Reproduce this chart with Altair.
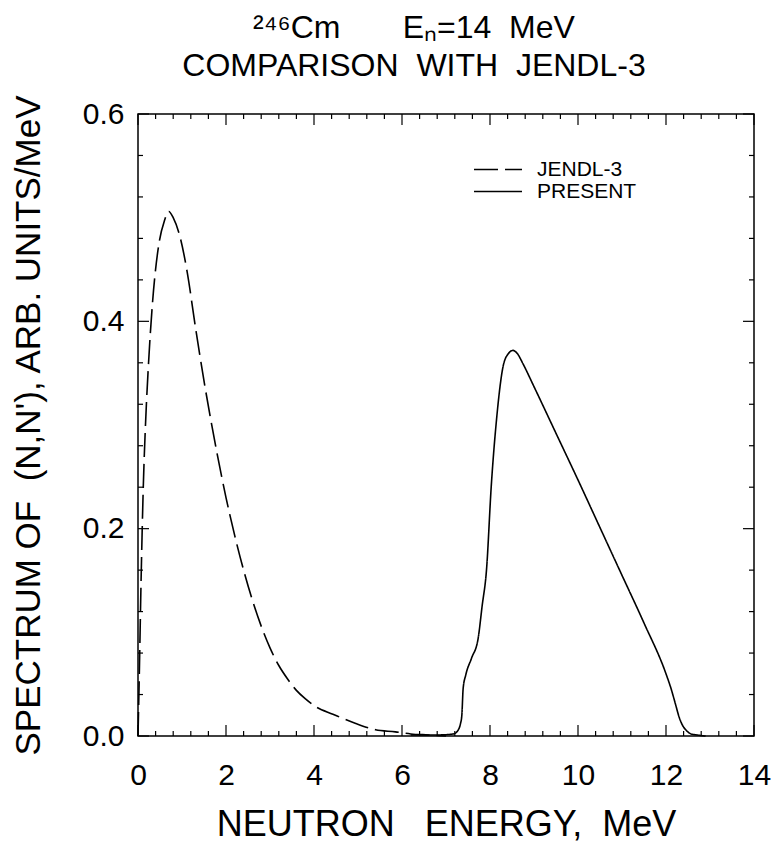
import altair as alt
import pandas as pd

# ---- data ----
jendl_x = [0.0, 0.03, 0.07, 0.12, 0.17, 0.24, 0.33, 0.48, 0.60, 0.70, 0.80, 0.97, 1.12, 1.31,
           1.53, 1.80, 2.00, 2.20, 2.40, 2.60, 2.80, 3.00, 3.20, 3.40, 3.60, 3.80, 4.05, 4.43,
           4.95, 5.40, 5.85, 6.20, 6.60, 7.00]
jendl_y = [0.0, 0.06, 0.15, 0.24, 0.30, 0.36, 0.418, 0.476, 0.497, 0.506, 0.500, 0.479, 0.447,
           0.393, 0.335, 0.272, 0.230, 0.193, 0.160, 0.131, 0.106, 0.085, 0.068, 0.055, 0.044,
           0.036, 0.028, 0.021, 0.012, 0.006, 0.004, 0.002, 0.001, 0.0]

present_x = [6.2, 6.8, 7.17, 7.28, 7.33, 7.36, 7.39, 7.45, 7.58, 7.73, 7.82, 7.92, 8.03, 8.15,
             8.30, 8.42, 8.52, 8.62, 8.75, 9.00, 9.50, 10.00, 10.50, 11.00, 11.50, 12.00, 12.12,
             12.22, 12.30, 12.38, 12.47, 12.57, 12.70, 12.90]
present_y = [0.001, 0.001, 0.002, 0.006, 0.012, 0.020, 0.046, 0.059, 0.075, 0.094, 0.125, 0.160,
             0.242, 0.306, 0.357, 0.369, 0.372, 0.369, 0.359, 0.337, 0.292, 0.247, 0.201, 0.155,
             0.109, 0.060, 0.045, 0.030, 0.018, 0.010, 0.005, 0.002, 0.001, 0.0]

series_names = ["JENDL-3", "PRESENT"]
x_major = [0, 2, 4, 6, 8, 10, 12, 14]
x_minor = [round(0.4 * i, 2) for i in range(36) if i % 5]
y_major = [0.0, 0.2, 0.4, 0.6]
y_minor = [round(0.04 * i, 2) for i in range(16) if i % 5]

W, H = 616, 622
FONT = "Liberation Sans"

df = pd.concat([
    pd.DataFrame({"x": jendl_x, "y": jendl_y, "series": series_names[0], "o": range(len(jendl_x))}),
    pd.DataFrame({"x": present_x, "y": present_y, "series": series_names[1], "o": range(len(present_x))}),
])

xscale = alt.Scale(domain=[0, 14], nice=False, zero=False)
yscale = alt.Scale(domain=[0, 0.6], nice=False, zero=False)
xaxis = alt.Axis(values=x_major, format="d",
                 title="NEUTRON\u00a0\u00a0\u00a0ENERGY,\u00a0\u00a0MeV",
                 labelPadding=24, titlePadding=17, titleFontSize=36)
yaxis = alt.Axis(values=y_major, format=".1f",
                 title="SPECTRUM OF\u00a0\u00a0(N,N'), ARB. UNITS/MeV",
                 labelPadding=14, titlePadding=36)

lines = alt.Chart(df).mark_line(interpolate="monotone", strokeWidth=1.6, color="black").encode(
    x=alt.X("x:Q", scale=xscale, axis=xaxis),
    y=alt.Y("y:Q", scale=yscale, axis=yaxis),
    order="o:Q",
    strokeDash=alt.StrokeDash(
        "series:N",
        scale=alt.Scale(domain=series_names, range=[[24, 7], [1, 0]]),
        legend=alt.Legend(title=None, orient="none", legendX=335, legendY=46,
                          symbolType="stroke", symbolSize=2300, symbolStrokeWidth=1.5,
                          symbolStrokeColor="black", labelFont=FONT, labelFontSize=21,
                          labelColor="black", clipHeight=19, padding=0, labelOffset=14,
                          rowPadding=0),
    ),
)


def tick_layer(vals, field, length, side):
    d = pd.DataFrame({field: vals})
    base = alt.Chart(d).mark_rule(color="black", strokeWidth=1.2)
    if side == "bottom":
        return base.encode(x=alt.X(f"{field}:Q", scale=xscale, axis=xaxis),
                           y=alt.value(H), y2=alt.value(H - length))
    if side == "top":
        return base.encode(x=alt.X(f"{field}:Q", scale=xscale, axis=xaxis),
                           y=alt.value(0), y2=alt.value(length))
    if side == "left":
        return base.encode(y=alt.Y(f"{field}:Q", scale=yscale, axis=yaxis),
                           x=alt.value(0), x2=alt.value(length))
    return base.encode(y=alt.Y(f"{field}:Q", scale=yscale, axis=yaxis),
                       x=alt.value(W), x2=alt.value(W - length))


ticks = []
for side in ["bottom", "top"]:
    ticks.append(tick_layer(x_major, "x", 11, side))
    ticks.append(tick_layer(x_minor, "x", 5, side))
for side in ["left", "right"]:
    ticks.append(tick_layer(y_major, "y", 11, side))
    ticks.append(tick_layer(y_minor, "y", 5, side))

chart = alt.layer(lines, *ticks).properties(
    width=W, height=H,
    padding={"left": 3, "top": 4, "right": 0, "bottom": 0},
    title=alt.TitleParams(
        text=["\u00b2\u2074\u2076Cm\u00a0\u00a0\u00a0\u00a0\u00a0\u00a0\u00a0E\u2099=14\u00a0\u00a0MeV",
              "COMPARISON\u00a0\u00a0WITH\u00a0\u00a0JENDL-3"],
        font=FONT, fontSize=32, fontWeight="normal", color="black",
        anchor="middle", frame="group", dx=-32, lineHeight=38, offset=11,
    ),
    background="white",
).configure_view(stroke="black", strokeWidth=1.5).configure_axis(
    domain=False, ticks=False, grid=False, labelFont=FONT, labelFontSize=30,
    labelColor="black", titleFont=FONT, titleFontSize=35, titleFontWeight="normal",
    titleColor="black", labelFlush=False,
)

chart.save("out.html", embed_options={"renderer": "svg", "actions": False})
